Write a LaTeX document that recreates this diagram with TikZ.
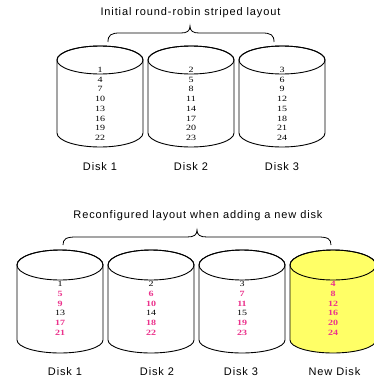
\documentclass[tikz,border=0pt]{standalone}
\usepackage{fontspec}
\setmainfont{Liberation Serif}
\newfontfamily\labfont[LetterSpace=8]{Liberation Sans}
\definecolor{pinknum}{RGB}{235,50,140}
\definecolor{newyel}{RGB}{255,255,102}
\newcommand\drawcyl[6]{% cx, ytop, ybot, ry top, ry bot, fill
  \filldraw[cylline, fill=#6] (#1-43,#2) -- (#1-43,#3)
    arc[start angle=180,end angle=360,x radius=43pt,y radius=#5pt] -- (#1+43,#2)
    arc[start angle=0,end angle=180,x radius=43pt,y radius=#4pt] -- cycle;
  \draw[cylline] (#1,#2) ellipse[x radius=43pt,y radius=#4pt];
}
\tikzset{
  cylline/.style={line width=0.9pt, draw=black},
  num/.style={inner sep=0pt, font=\fontsize{8}{9}\selectfont},
  pnum/.style={num, text=pinknum, font=\fontsize{8}{9}\selectfont\bfseries},
  lab/.style={inner sep=0pt, font=\labfont\fontsize{11}{13}\selectfont},
  bracel/.style={line width=0.8pt}
}
\begin{document}
\begin{tikzpicture}[x=1pt,y=-1pt]
\useasboundingbox (0,0) rectangle (374,380);
\clip (0,0) rectangle (374,380);
\fill[white] (0,0) rectangle (374,380);

% ---------- top: initial layout ----------
\node[lab] (t1) at (190.5,13) {Initial round-robin striped layout};
\draw[bracel] (108,42) .. controls (108,35) and (111,33) .. (120,33) -- (181,33)
  .. controls (187,33) and (190,31) .. (190,26)
  .. controls (190,31) and (193,33) .. (199,33) -- (262,33)
  .. controls (271,33) and (274,35) .. (274,42);

\drawcyl{100}{60}{133}{14}{14}{white}
\drawcyl{191}{60}{133}{14}{14}{white}
\drawcyl{282}{60}{133}{14}{14}{white}

\foreach \c/\cx in {1/100,2/191,3/282}{
  \foreach \r [count=\i from 0] in {70,80,89,99,109,119,128,138}{
    \pgfmathtruncatemacro\v{\c+3*\i}
    \node[num] (a\c-\i) at (\cx,\r) {\scalebox{1.25}[1]{\v}};
  }
}
\node[lab] (d1) at (100,167) {Disk 1};
\node[lab] (d2) at (191,167) {Disk 2};
\node[lab] (d3) at (282,167) {Disk 3};

% ---------- bottom: reconfigured layout ----------
\node[lab] (t2) at (198,216) {Reconfigured layout when adding a new disk};
\draw[bracel] (63,245) .. controls (63,239) and (66,237) .. (76,237) -- (187,237)
  .. controls (194,237) and (197,235) .. (197,230)
  .. controls (197,235) and (200,237) .. (207,237) -- (318,237)
  .. controls (328,237) and (331,239) .. (331,245);

\drawcyl{60}{265}{340}{15}{13}{white}
\drawcyl{151}{265}{340}{15}{13}{white}
\drawcyl{242}{265}{340}{15}{13}{white}
\drawcyl{333}{265}{340}{15}{13}{newyel}

\foreach \c/\cx in {1/60,2/151,3/242}{
  \foreach \r [count=\i from 0] in {284,294,304,313,323,333}{
    \pgfmathtruncatemacro\v{\c+4*\i}
    \pgfmathtruncatemacro\m{mod(\i,3)}
    \ifnum\m=0
      \node[num] (b\c-\i) at (\cx,\r) {\scalebox{1.25}[1]{\v}};
    \else
      \node[pnum] (b\c-\i) at (\cx,\r) {\scalebox{1.25}[1]{\v}};
    \fi
  }
}
\foreach \r [count=\i from 0] in {284,294,304,313,323,333}{
  \pgfmathtruncatemacro\v{4+4*\i}
  \node[pnum] (b4-\i) at (333,\r) {\scalebox{1.25}[1]{\v}};
}
\node[lab] (e1) at (65,372) {Disk 1};
\node[lab] (e2) at (157,372) {Disk 2};
\node[lab] (e3) at (241,372) {Disk 3};
\node[lab] (e4) at (334.5,372) {New Disk};
\end{tikzpicture}
\end{document}
